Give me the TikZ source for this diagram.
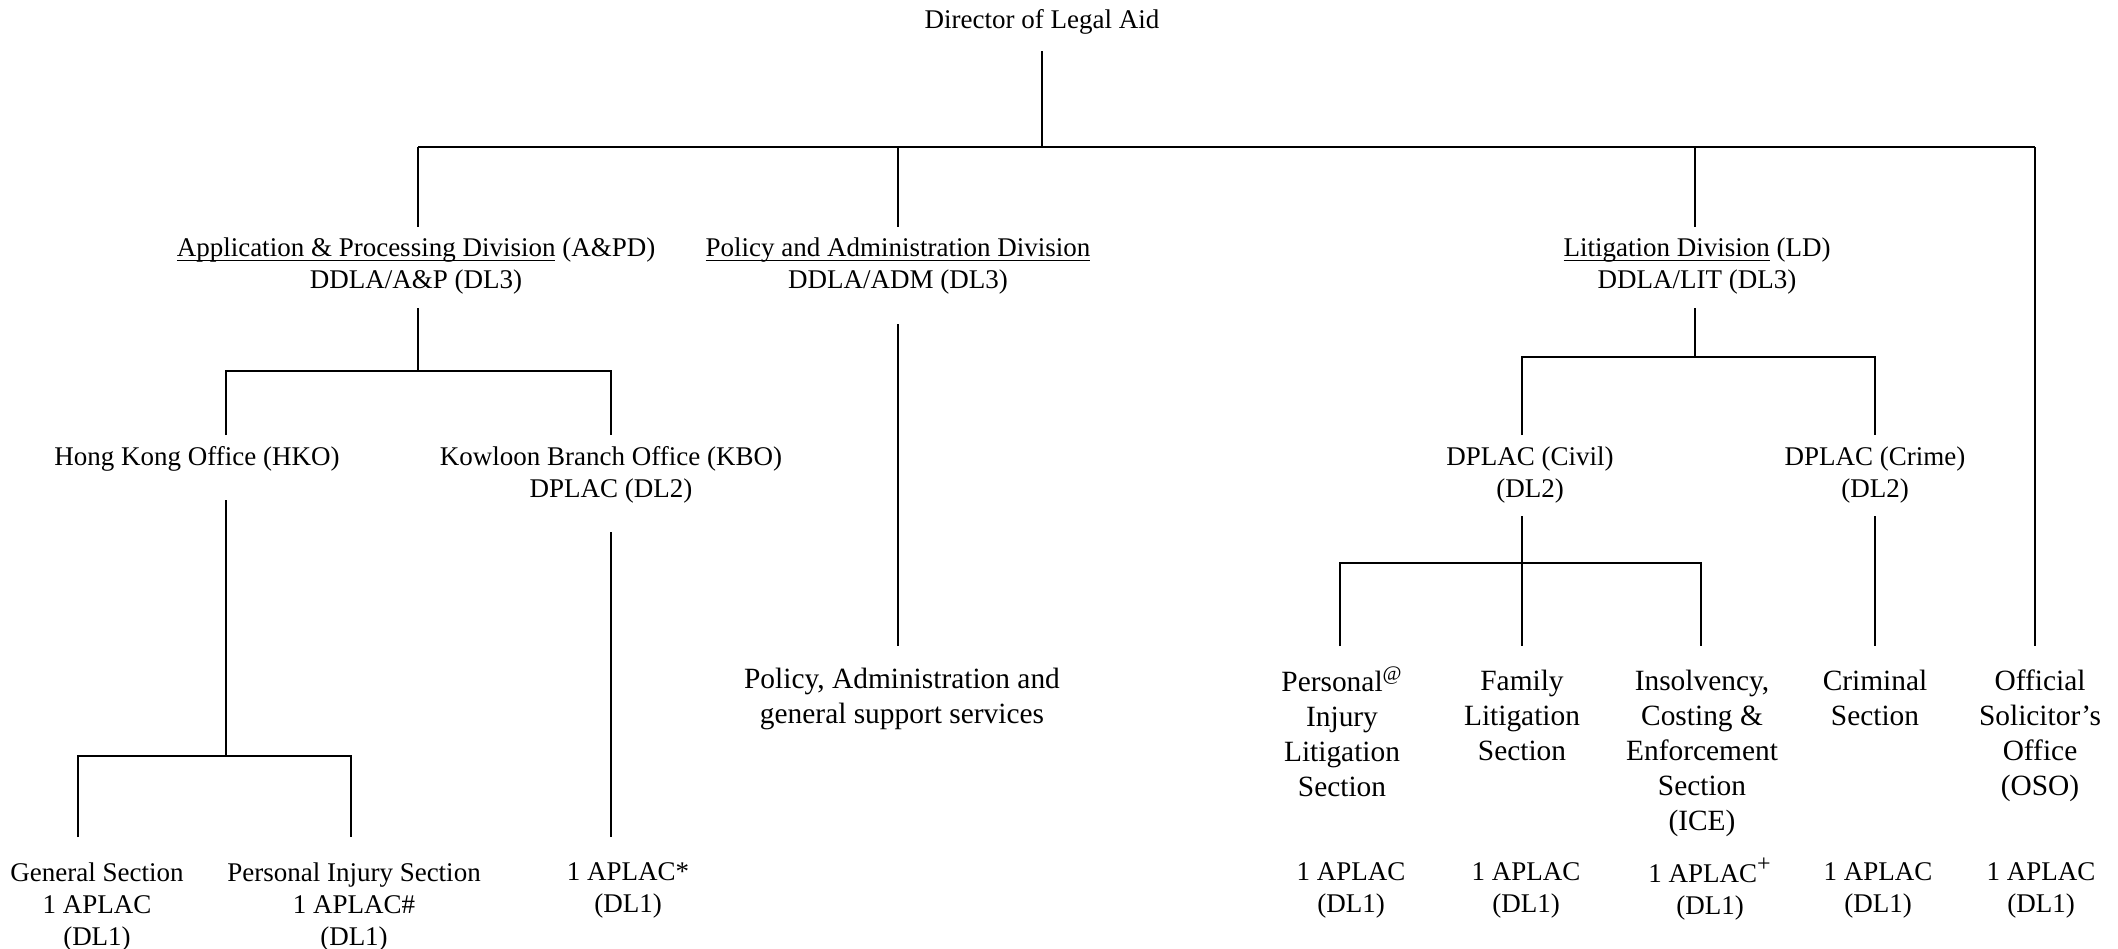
\documentclass[tikz,border=0pt]{standalone}
\usepackage{fontspec}
\setmainfont{Liberation Serif}
\newcommand{\myul}[1]{\setbox0\hbox{#1}\rlap{\rule[-2.4pt]{\wd0}{0.6pt}}\box0\relax}
\begin{document}
\begin{tikzpicture}[x=0.5pt,y=-0.5pt,
  lbl/.style={font=\fontsize{13.5}{16}\selectfont, align=center, inner sep=0pt},
  big/.style={font=\fontsize{14.7}{17.5}\selectfont, align=center, inner sep=0pt},
  conn/.style={line width=1pt}]
\useasboundingbox (0,0) rectangle (2118,948);
% text nodes
\node[lbl] (dir) at (1042,22) {Director of Legal Aid};
\node[lbl] (apd) at (416,266) {\myul{Application \& Processing Division} (A\&PD)\\DDLA/A\&P (DL3)};
\node[lbl] (pad) at (898,266) {\myul{Policy and Administration Division}\\DDLA/ADM (DL3)};
\node[lbl] (ld) at (1697,266) {\myul{Litigation Division} (LD)\\DDLA/LIT (DL3)};
\node[lbl] (hko) at (197,459) {Hong Kong Office (HKO)};
\node[lbl] (kbo) at (611,475) {Kowloon Branch Office (KBO)\\DPLAC (DL2)};
\node[lbl] (civ) at (1530,475) {DPLAC (Civil)\\(DL2)};
\node[lbl] (cri) at (1875,475) {DPLAC (Crime)\\(DL2)};
\node[lbl] (gen) at (97,907) {General Section\\1 APLAC\\(DL1)};
\node[lbl] (pis) at (354,907) {Personal Injury Section\\1 APLAC\#\\(DL1)};
\node[lbl] (kap) at (628,890) {1 APLAC*\\(DL1)};
\node[big] (pss) at (902,699) {Policy, Administration and\\general support services};
\node[big] (pil) at (1342,732) {Personal\textsuperscript{@}\\Injury\\Litigation\\Section};
\node[big] (fam) at (1522,715) {Family\\Litigation\\Section};
\node[big] (ice) at (1702,753) {Insolvency,\\Costing \&\\Enforcement\\Section\\(ICE)};
\node[big] (crs) at (1875,698) {Criminal\\Section};
\node[big] (oso) at (2040,736) {Official\\Solicitor's\\Office\\(OSO)};
\node[lbl] (a1) at (1351,890) {1 APLAC\\(DL1)};
\node[lbl] (a2) at (1526,890) {1 APLAC\\(DL1)};
\node[lbl] (a3) at (1710,889) {1 APLAC\textsuperscript{\large +}\\(DL1)};
\node[lbl] (a4) at (1878,890) {1 APLAC\\(DL1)};
\node[lbl] (a5) at (2041,890) {1 APLAC\\(DL1)};
% junction coordinates
\coordinate (dirB) at (1042,51);
\coordinate (bus) at (1042,147);
\coordinate (busL) at (418,147);
\coordinate (busP) at (898,147);
\coordinate (busD) at (1695,147);
\coordinate (busR) at (2035,147);
\coordinate (apdT) at (418,227);
\coordinate (padT) at (898,227);
\coordinate (ldT) at (1695,227);
\coordinate (osoT) at (2035,646);
\coordinate (apdB) at (418,308);
\coordinate (apdJ) at (418,371);
\coordinate (hkoJ) at (226,371);
\coordinate (kboJ) at (611,371);
\coordinate (hkoT) at (226,435);
\coordinate (kboT) at (611,435);
\coordinate (hkoB) at (226,500);
\coordinate (hkoJ2) at (226,756);
\coordinate (genJ) at (78,756);
\coordinate (pisJ) at (351,756);
\coordinate (genT) at (78,837);
\coordinate (pisT) at (351,837);
\coordinate (kboB) at (611,532);
\coordinate (kapT) at (611,837);
\coordinate (padB) at (898,324);
\coordinate (pssT) at (898,646);
\coordinate (ldB) at (1695,308);
\coordinate (ldJ) at (1695,357);
\coordinate (civJ) at (1522,357);
\coordinate (criJ) at (1875,357);
\coordinate (civT) at (1522,435);
\coordinate (criT) at (1875,435);
\coordinate (civB) at (1522,516);
\coordinate (civJ2) at (1522,563);
\coordinate (pilJ) at (1340,563);
\coordinate (iceJ) at (1701,563);
\coordinate (pilT) at (1340,646);
\coordinate (famT) at (1522,646);
\coordinate (iceT) at (1701,646);
\coordinate (criB) at (1875,516);
\coordinate (crsT) at (1875,646);
% connectors
\draw[conn] (dirB) -- (bus);
\draw[conn] (busL) -- (busR);
\draw[conn] (busL) -- (apdT);
\draw[conn] (busP) -- (padT);
\draw[conn] (busD) -- (ldT);
\draw[conn] (busR) -- (osoT);
\draw[conn] (apdB) -- (apdJ);
\draw[conn] (hkoT) -- (hkoJ) -- (kboJ) -- (kboT);
\draw[conn] (hkoB) -- (hkoJ2);
\draw[conn] (genT) -- (genJ) -- (pisJ) -- (pisT);
\draw[conn] (kboB) -- (kapT);
\draw[conn] (padB) -- (pssT);
\draw[conn] (ldB) -- (ldJ);
\draw[conn] (civT) -- (civJ) -- (criJ) -- (criT);
\draw[conn] (civB) -- (civJ2);
\draw[conn] (pilT) -- (pilJ) -- (iceJ) -- (iceT);
\draw[conn] (civJ2) -- (famT);
\draw[conn] (criB) -- (crsT);
\end{tikzpicture}
\end{document}
